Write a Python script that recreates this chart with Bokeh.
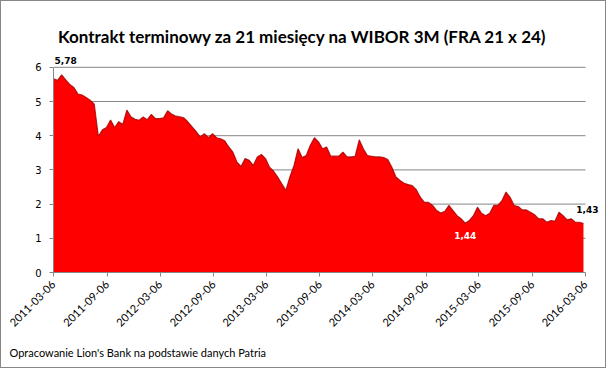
import pandas as pd
from math import pi
from bokeh.plotting import figure
from bokeh.models import (Range1d, FixedTicker, DatetimeTickFormatter, Label,
                          ColumnDataSource, Title)
from bokeh.embed import file_html
from bokeh.resources import INLINE

# ---------------- data ----------------
start_date = "2011-03-06"
step = "14D"
values = [
    5.66, 5.62, 5.78, 5.63, 5.50, 5.41, 5.22, 5.19, 5.12, 5.04,
    4.92, 3.98, 4.17, 4.24, 4.46, 4.24, 4.41, 4.33, 4.75, 4.55,
    4.48, 4.45, 4.55, 4.47, 4.62, 4.50, 4.50, 4.52, 4.73, 4.63,
    4.57, 4.55, 4.52, 4.40, 4.26, 4.12, 3.96, 4.06, 3.94, 4.06,
    3.94, 3.91, 3.85, 3.67, 3.52, 3.23, 3.10, 3.33, 3.28, 3.13,
    3.38, 3.45, 3.33, 3.08, 2.96, 2.79, 2.59, 2.40, 2.80, 3.13,
    3.62, 3.36, 3.42, 3.72, 3.94, 3.82, 3.62, 3.67, 3.40, 3.40,
    3.40, 3.52, 3.38, 3.38, 3.40, 3.88, 3.62, 3.42, 3.40, 3.38,
    3.38, 3.36, 3.30, 3.08, 2.79, 2.69, 2.61, 2.57, 2.54, 2.42,
    2.20, 2.05, 2.05, 1.96, 1.81, 1.74, 1.79, 1.96, 1.81, 1.66,
    1.57, 1.44, 1.52, 1.66, 1.91, 1.73, 1.66, 1.73, 1.96, 1.96,
    2.10, 2.35, 2.20, 1.96, 1.93, 1.83, 1.83, 1.76, 1.69, 1.57,
    1.57, 1.47, 1.52, 1.50, 1.76, 1.66, 1.54, 1.57, 1.47, 1.47,
    1.43,
]
tick_dates = ["2011-03-06", "2011-09-06", "2012-03-06", "2012-09-06",
              "2013-03-06", "2013-09-06", "2014-03-06", "2014-09-06",
              "2015-03-06", "2015-09-06", "2016-03-06"]
y_ticks = [0, 1, 2, 3, 4, 5, 6]
title_text = "Kontrakt terminowy za 21 miesięcy na WIBOR 3M (FRA 21 x 24)"
note_text = "Opracowanie Lion's Bank na podstawie danych Patria"
labelled = [2, 101, 130]          # indexes of the labelled points
labelled_colors = ["black", "white", "black"]

# ---------------- layout constants (pixels) ----------------
W, H = 606, 368
LEFT, BOTTOM = 53, 96
PX_PER_DAY = 532 / 1827           # 2011-03-06 .. 2016-03-06 over 532 px
PX_PER_UNIT = 34.2

t0 = pd.Timestamp(tick_dates[0])
t1 = pd.Timestamp(tick_dates[-1])
frame_w = W - LEFT
frame_h = H - BOTTOM
x_end = t0 + pd.Timedelta(days=frame_w / PX_PER_DAY)
y_end = frame_h / PX_PER_UNIT

dates = pd.date_range(start_date, periods=len(values), freq=step)
src = ColumnDataSource(dict(date=dates, val=values))

p = figure(width=W, height=H, x_axis_type="datetime",
           output_backend="svg", toolbar_location=None,
           x_range=Range1d(t0, x_end), y_range=Range1d(0, y_end),
           min_border_left=LEFT, min_border_right=0,
           min_border_top=0, min_border_bottom=BOTTOM)
p.outline_line_color = None
p.background_fill_color = None
p.border_fill_color = None
p.styles = {"outline": "1px solid #878787", "outline-offset": "-1px",
            "background-color": "white"}

# horizontal grid lines only across the data span
p.xgrid.visible = False
p.ygrid.visible = False
gy = [v for v in y_ticks if v > 0]
p.segment(x0=[t0] * len(gy), x1=[t1] * len(gy), y0=gy, y1=gy,
          line_color="#868686", line_width=1)

p.varea(x="date", y1=0, y2="val", source=src, fill_color="#FF0000")
p.line(x="date", y="val", source=src, line_color="#A00000", line_width=1.2,
       line_alpha=0.8)

# axes
p.yaxis.ticker = FixedTicker(ticks=y_ticks)
p.yaxis.bounds = (y_ticks[0], y_ticks[-1])
p.xaxis.ticker = FixedTicker(ticks=[pd.Timestamp(d).timestamp() * 1000 for d in tick_dates])
p.xaxis.bounds = (t0, t1)
fmt = "%Y-%m-%d"
p.xaxis.formatter = DatetimeTickFormatter(days=fmt, months=fmt, years=fmt)
p.xaxis.major_label_orientation = pi / 4

for ax in (p.xaxis[0], p.yaxis[0]):
    ax.axis_line_color = "#868686"
    ax.major_tick_line_color = "#868686"
    ax.major_tick_out = 4
    ax.major_tick_in = 0
    ax.minor_tick_line_color = None
    ax.major_label_text_color = "black"

p.xaxis.major_label_text_font = "Lato"
p.xaxis.major_label_text_font_size = "11px"
p.xaxis.major_label_standoff = 6
p.yaxis.major_label_text_font = "DejaVu Sans"
p.yaxis.major_label_text_font_size = "10px"
p.yaxis.major_label_standoff = 8

# data labels
offsets = {2: (4, 11), 101: (0, -9), 130: (4, 11)}
for i, col in zip(labelled, labelled_colors):
    v = values[i]
    txt = f"{v:.2f}".replace(".", ",")
    below = col == "white"
    dx, dy = offsets[i]
    p.add_layout(Label(x=dates[i], y=v, text=txt, text_color=col,
                       text_font="DejaVu Sans", text_font_style="bold",
                       text_font_size="9px", text_align="center",
                       text_baseline="top" if below else "bottom",
                       x_offset=dx, y_offset=dy))

# title (inside the frame area, screen units relative to frame)
p.add_layout(Label(x=302 - LEFT, y=frame_h - 35.5, x_units="screen", y_units="screen",
                   text=title_text, text_font="Lato", text_font_style="bold",
                   text_font_size="17px", text_align="center",
                   text_baseline="middle", text_color="black"))

# source note below the axis
note = Title(text=note_text, align="left", text_font="Lato",
             text_font_size="11px", text_font_style="normal",
             text_color="black", offset=9 - LEFT, standoff=20)
p.add_layout(note, "below")

open("out.html", "w").write(file_html(p, INLINE))
